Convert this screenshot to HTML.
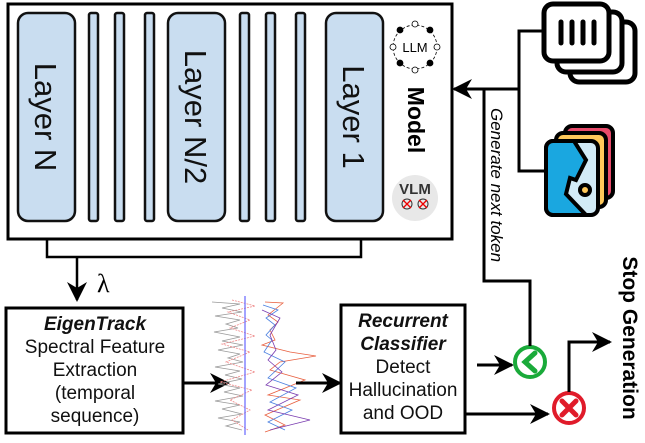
<!DOCTYPE html>
<html><head><style>
body{margin:0;width:645px;height:438px;background:#fff;overflow:hidden;font-family:"Liberation Sans",sans-serif}
</style></head><body>
<svg width="645" height="438" viewBox="0 0 645 438" xmlns="http://www.w3.org/2000/svg" font-family="Liberation Sans, sans-serif">
<defs>
<marker id="ahb" viewBox="0 0 10 10" refX="9" refY="5" markerWidth="20" markerHeight="20" orient="auto" markerUnits="userSpaceOnUse">
<path d="M0,0 L10,5 L0,10 L3,5 z" fill="#000"/></marker>
</defs>
<rect x="8" y="4" width="444" height="235" fill="#fff" stroke="#000" stroke-width="3"/>
<g fill="#c9ddf0" stroke="#111" stroke-width="2.5">
<rect x="18" y="13" width="57" height="208" rx="10"/>
<rect x="89" y="13" width="9" height="208" rx="2"/>
<rect x="115" y="13" width="9" height="208" rx="2"/>
<rect x="145" y="13" width="9" height="208" rx="2"/>
<rect x="168" y="13" width="57" height="208" rx="10"/>
<rect x="240" y="13" width="9" height="208" rx="2"/>
<rect x="266" y="13" width="9" height="208" rx="2"/>
<rect x="296" y="13" width="9" height="208" rx="2"/>
<rect x="326" y="13" width="57" height="208" rx="10"/>
</g>
<g font-size="31" fill="#111">
<text transform="translate(35,117) rotate(90)" text-anchor="middle">Layer N</text>
<text transform="translate(185,117) rotate(90)" text-anchor="middle">Layer N/2</text>
<text transform="translate(343,117) rotate(90)" text-anchor="middle">Layer 1</text>
</g>
<circle cx="415" cy="47" r="22" fill="none" stroke="#000" stroke-width="0.8" stroke-dasharray="3,2"/>
<g stroke="#000" stroke-width="0.8">
<circle cx="415" cy="24" r="3" fill="#fff"/><circle cx="415" cy="70" r="3" fill="#fff"/>
<circle cx="393" cy="47" r="3" fill="#fff"/><circle cx="437" cy="47" r="3" fill="#fff"/>
<circle cx="400" cy="30" r="3" fill="#000"/><circle cx="430" cy="30" r="3" fill="#000"/>
<circle cx="400" cy="63" r="3" fill="#000"/><circle cx="430" cy="63" r="3" fill="#000"/>
</g>
<text x="415" y="52" font-size="13" text-anchor="middle">LLM</text>
<text transform="translate(408,120) rotate(90)" font-size="23" font-weight="bold" text-anchor="middle">Model</text>
<circle cx="415" cy="198" r="23" fill="#e8e8e8"/>
<text x="415" y="194" font-size="15" font-weight="bold" text-anchor="middle" fill="#333">VLM</text>
<circle cx="407" cy="204" r="5" fill="none" stroke="#333"/><circle cx="423" cy="204" r="5" fill="none" stroke="#333"/>
<path d="M403,200 l8,8 M411,200 l-8,8 M419,200 l8,8 M427,200 l-8,8" stroke="#e00" stroke-width="1.3"/>
<path d="M47,240 V257 H361 V240" fill="none" stroke="#000" stroke-width="2.5"/>
<path d="M77,257 V300" stroke="#000" stroke-width="2.5" marker-end="url(#ahb)"/>
<text x="97" y="292" font-size="26" font-family="Liberation Serif, serif">λ</text>
<rect x="6" y="308" width="177" height="125" fill="#fff" stroke="#000" stroke-width="3"/>
<g font-size="19" text-anchor="middle" fill="#111">
<text x="95" y="330" font-weight="bold" font-style="italic">EigenTrack</text>
<text x="95" y="353">Spectral Feature</text>
<text x="95" y="376">Extraction</text>
<text x="95" y="399">(temporal</text>
<text x="95" y="422">sequence)</text>
</g>
<path d="M183,383 H228" stroke="#000" stroke-width="3" marker-end="url(#ahb)"/>
<g fill="none" stroke-width="0.8">
<path d="M212,302 L240,304 L222,308 L242,312 L215,316 L240,320 L226,324 L238,328 L214,332 L240,337 L222,341 L243,345 L218,350 L240,354 L228,358 L243,362 L215,367 L240,371 L225,375 L242,379 L218,384 L240,388 L224,392 L243,396 L215,401 L240,405 L222,409 L242,414 L218,418 L240,422 L226,426 L242,430" stroke="#999"/>
<path d="M232,300 L255,306 L228,312 L250,320 L230,328 L255,336 L222,344 L250,352 L226,362 L255,372 L220,382 L252,390 L230,400 L250,410 L232,420 L248,430" stroke="#e88" stroke-dasharray="2,1"/>
<line x1="245" y1="296" x2="245" y2="435" stroke="#66f" stroke-width="1.2"/>
<path d="M265,302 L283,303 L268,315 L278,322 L270,330 L275,340 L262,345 L290,352 L316,356 L280,362 L270,370 L305,380 L268,395 L300,400 L265,415 L285,425 L265,432" stroke="#e86040"/>
<path d="M263,305 L278,310 L266,318 L275,325 L266,335 L272,340 L264,352 L285,362 L268,378 L296,388 L270,402 L292,410 L268,422 L285,430" stroke="#4a7fe0"/>
<path d="M262,310 L280,318 L270,335 L276,350 L268,360 L282,372 L266,385 L298,395 L268,410 L310,420 L270,430" stroke="#7a3cb0"/>
</g>
<path d="M296,383 H340" stroke="#000" stroke-width="3" marker-end="url(#ahb)"/>
<rect x="341" y="305" width="124" height="128" fill="#fff" stroke="#000" stroke-width="3"/>
<g font-size="19" text-anchor="middle" fill="#111">
<text x="403" y="327" font-weight="bold" font-style="italic">Recurrent</text>
<text x="403" y="350" font-weight="bold" font-style="italic">Classifier</text>
<text x="403" y="373">Detect</text>
<text x="403" y="396">Hallucination</text>
<text x="403" y="419">and OOD</text>
</g>
<path d="M477,365 H512" stroke="#000" stroke-width="3" marker-end="url(#ahb)"/>
<path d="M465,414 H548" stroke="#000" stroke-width="3" marker-end="url(#ahb)"/>
<circle cx="530" cy="362" r="15" fill="#fff" stroke="#1aaa3a" stroke-width="4"/>
<path d="M535,353 L525,362 L535,371" fill="none" stroke="#1aaa3a" stroke-width="5" stroke-linecap="round"/>
<circle cx="569" cy="408" r="15" fill="#fff" stroke="#e01b2a" stroke-width="4"/>
<path d="M562,401 L576,415 M576,401 L562,415" stroke="#e01b2a" stroke-width="5" stroke-linecap="round"/>
<path d="M569,392 V342 H610" fill="none" stroke="#000" stroke-width="3" marker-end="url(#ahb)"/>
<text transform="translate(623,338) rotate(90)" font-size="21" font-weight="bold" text-anchor="middle">Stop Generation</text>
<path d="M530,346 V281 H484 V89" fill="none" stroke="#000" stroke-width="3"/>
<path d="M519,89 H454" stroke="#000" stroke-width="3" marker-end="url(#ahb)"/>
<path d="M545,31 H519 V171 H545" fill="none" stroke="#000" stroke-width="3"/>
<text transform="translate(491,185) rotate(90)" font-size="17" font-style="italic" text-anchor="middle">Generate next token</text>
<g stroke="#000" stroke-width="5" fill="#fff">
<rect x="570" y="22" width="65" height="60" rx="9"/>
<rect x="557" y="12" width="65" height="60" rx="9"/>
<rect x="544" y="4" width="65" height="57" rx="9"/>
</g>
<g stroke="#000" stroke-width="5" stroke-linecap="round">
<line x1="561" y1="22" x2="561" y2="43"/><line x1="572" y1="22" x2="572" y2="43"/>
<line x1="583" y1="22" x2="583" y2="43"/><line x1="594" y1="22" x2="594" y2="43"/>
</g>
<g stroke="#000" stroke-width="4">
<rect x="565" y="126" width="48" height="72" rx="7" fill="#e84a6a"/>
<rect x="556" y="133" width="50" height="74" rx="7" fill="#ffc85a"/>
<rect x="546" y="141" width="52" height="74" rx="7" fill="#d2ebf7"/>
<path d="M553,141 H574 L586,160 L576,180 L570,178 L566,194 L586,215 H553 A7,7 0 0 1 546,208 V148 A7,7 0 0 1 553,141 z" fill="#1aa7e0"/>
<circle cx="585" cy="190" r="5" fill="#ffc85a"/>
</g>
</svg>
</body></html>
